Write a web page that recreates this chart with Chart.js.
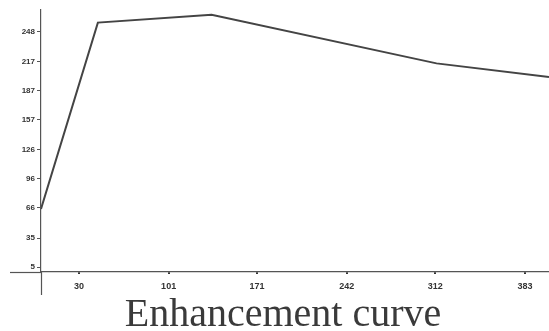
<!DOCTYPE html>
<html>
<head>
<meta charset="utf-8">
<script src="https://cdn.jsdelivr.net/npm/chart.js@4"></script>
<style>
html,body{margin:0;padding:0;background:#fff;}
#wrap{width:549px;height:331px;position:relative;}
</style>
</head>
<body>
<div id="wrap"><canvas id="c" width="549" height="331"></canvas></div>
<script>
const xValues = [0, 45, 135, 313, 402];
const yValues = [65, 257, 265, 215, 201];
const xTickLabels = [30, 101, 171, 242, 312, 383];
const yTickLabels = [5, 35, 66, 96, 126, 157, 187, 217, 248];
const titleText = 'Enhancement curve';

const points = xValues.map((x, i) => ({x: x, y: yValues[i]}));

const extras = {
  id: 'extras',
  afterDraw(chart) {
    const ctx = chart.ctx;
    const a = chart.chartArea;
    ctx.save();
    ctx.strokeStyle = '#555';
    ctx.lineWidth = 1.2;
    ctx.beginPath();
    ctx.moveTo(10, a.bottom + 0.5);
    ctx.lineTo(a.left, a.bottom + 0.5);
    ctx.stroke();
    ctx.beginPath();
    ctx.moveTo(a.left + 0.5, a.bottom);
    ctx.lineTo(a.left + 0.5, 295);
    ctx.stroke();
    ctx.fillStyle = '#3a3a3a';
    ctx.font = '40px "Liberation Serif", "Times New Roman", serif';
    ctx.textAlign = 'center';
    ctx.textBaseline = 'alphabetic';
    ctx.fillText(titleText, 283, 326);
    ctx.restore();
  }
};

new Chart(document.getElementById('c'), {
  type: 'line',
  data: {
    datasets: [{
      data: points,
      borderColor: '#444',
      borderWidth: 2,
      pointRadius: 0,
      tension: 0,
      fill: false
    }]
  },
  options: {
    responsive: false,
    animation: false,
    devicePixelRatio: 1,
    layout: {padding: {left: 0, right: 0, top: 10, bottom: 39}},
    plugins: {legend: {display: false}, tooltip: {enabled: false}, title: {display: false}},
    scales: {
      x: {
        type: 'linear',
        min: 0,
        max: 402,
        afterBuildTicks(s) { s.ticks = xTickLabels.map(v => ({value: v})); },
        afterFit(s) { s.height = 20; },
        border: {display: true, color: '#555', width: 1.2},
        grid: {drawOnChartArea: false, drawTicks: true, tickLength: 2, color: '#333', lineWidth: 2},
        ticks: {
          autoSkip: false, maxRotation: 0, padding: 7,
          color: '#333',
          font: {family: '"Liberation Sans", Arial, sans-serif', size: 9, weight: 'bold'},
          callback: v => String(v)
        }
      },
      y: {
        type: 'linear',
        min: 0,
        max: 270,
        afterBuildTicks(s) { s.ticks = yTickLabels.map(v => ({value: v})); },
        afterFit(s) { s.width = 41; },
        border: {display: true, color: '#555', width: 1.2},
        grid: {drawOnChartArea: false, drawTicks: true, tickLength: 4, color: '#555', lineWidth: 1},
        ticks: {
          autoSkip: false, padding: 2,
          color: '#333',
          font: {family: '"Liberation Sans", Arial, sans-serif', size: 8, weight: 'bold'},
          callback: v => String(v)
        }
      }
    }
  },
  plugins: [extras]
});
</script>
</body>
</html>
